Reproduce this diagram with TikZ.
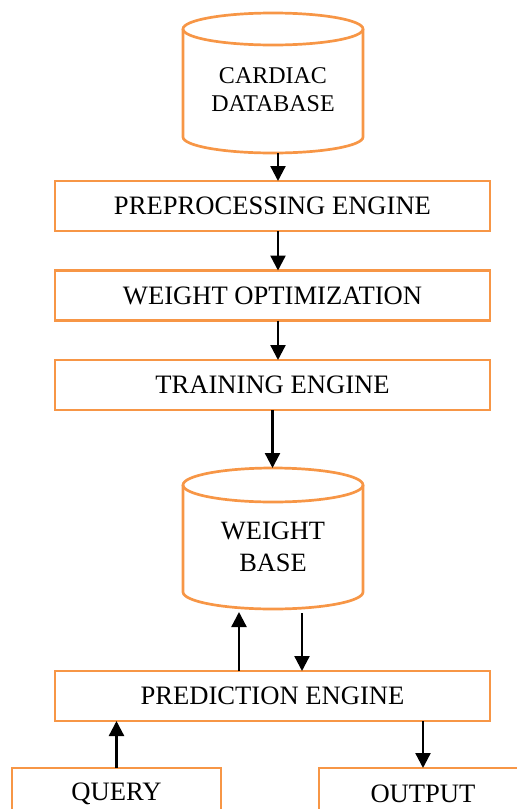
\documentclass[tikz,border=0pt]{standalone}
\usepackage{fontspec}
\setmainfont{Liberation Serif}
\usetikzlibrary{arrows.meta}
\definecolor{boxorange}{HTML}{F79646}
\begin{document}
\begin{tikzpicture}[x=1pt,y=-1pt,
  box/.style={draw=boxorange, line width=2.7pt, minimum width=435pt, minimum height=50pt, inner sep=0pt, outer sep=0pt, font=\fontsize{26.6}{28}\selectfont},
  smallbox/.style={box, minimum width=209pt, minimum height=52pt},
  cylarea/.style={minimum width=180pt, inner sep=0pt, outer sep=0pt},
  cylline/.style={draw=boxorange, line width=2.7pt},
  arr/.style={draw=black, line width=2.3pt, -{Triangle[width=15pt,length=15pt]}},
  txt/.style={align=center, inner sep=0pt, font=\fontsize{26.4}{32}\selectfont}]
\useasboundingbox (0,0) rectangle (517,809);

% Cardiac database cylinder
\node[cylarea, minimum height=140pt] (db) at (273,83) {};
\draw[cylline] (273,29) ellipse [x radius=90, y radius=16];
\draw[cylline] (183,29) -- (183,137) arc[start angle=180, end angle=0, x radius=90, y radius=16] -- (363,29);
\node[txt, font=\fontsize{24}{28}\selectfont] (dbt) at (273,90) {CARDIAC\\DATABASE};

% Boxes
\node[box] (pre) at (272.5,206) {PREPROCESSING ENGINE};
\node[box] (wo) at (272.5,295.5) {WEIGHT OPTIMIZATION};
\node[box] (te) at (272.5,385) {TRAINING ENGINE};

% Weight base cylinder
\node[cylarea, minimum height=141pt] (wb) at (273,538.5) {};
\draw[cylline] (273,485) ellipse [x radius=90, y radius=17];
\draw[cylline] (183,485) -- (183,592) arc[start angle=180, end angle=0, x radius=90, y radius=17] -- (363,485);
\node[txt] (wbt) at (273,546.5) {WEIGHT\\BASE};

\node[box] (pred) at (272.5,696) {PREDICTION ENGINE};
\node[smallbox] (query) at (116.5,794) {QUERY};
\node[smallbox, minimum width=208pt] (out) at (423,794) {OUTPUT};

% Connectors
\draw[arr] ([xshift=5pt]db.south) -- ([xshift=5.5pt]pre.north);
\draw[arr] ([xshift=5.5pt]pre.south) -- ([xshift=5.5pt]wo.north);
\draw[arr] ([xshift=5.5pt]wo.south) -- ([xshift=5.5pt]te.north);
\draw[arr] (te.south) -- (te.south |- wb.north);
\draw[arr] ([xshift=-33.5pt]pred.north) -- ([xshift=-34pt,yshift=-3pt]wb.south);
\draw[arr] ([xshift=29pt,yshift=-4pt]wb.south) -- ([xshift=29.5pt]pred.north);
\draw[arr] (query.north) -- (query.north |- pred.south);
\draw[arr] (pred.south -| out.north) -- (out.north);
\end{tikzpicture}
\end{document}
